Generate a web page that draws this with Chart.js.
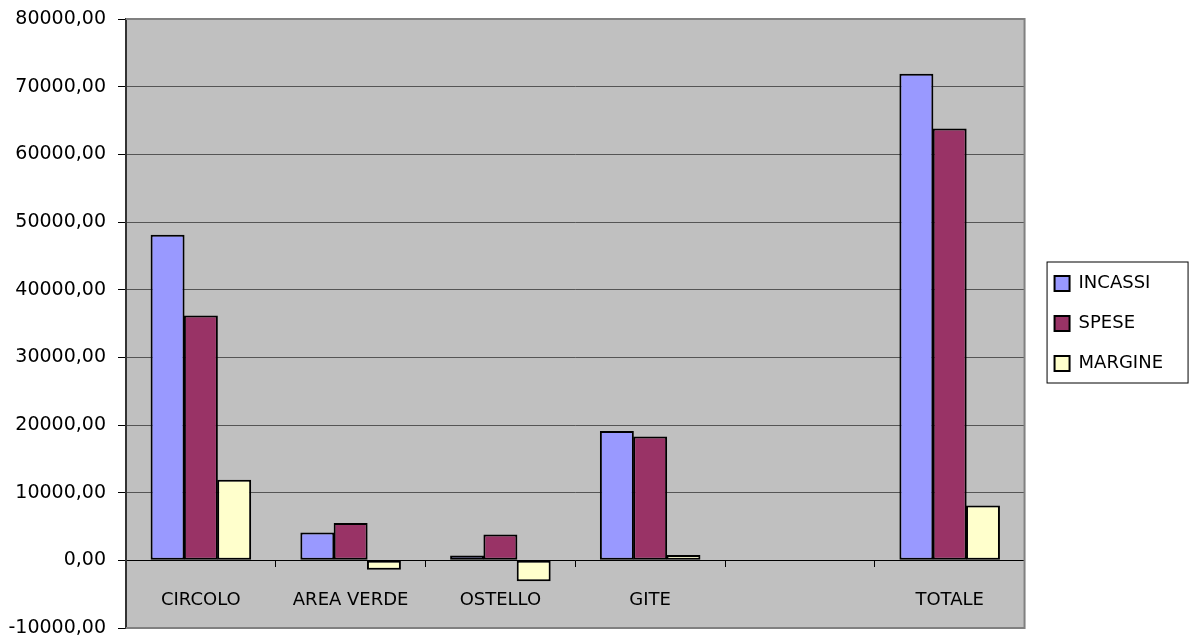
<!DOCTYPE html>
<html lang="it">
<head>
    <meta charset="UTF-8">
    <title>Incassi e spese</title>
    <script src="https://cdn.jsdelivr.net/npm/chart.js"></script>
    <style>
        body {
            margin: 0;
            padding: 0;
            background-color: #fff;
        }
        #wrap {
            width: 1192px;
            height: 643px;
        }
    </style>
</head>
<body>

<div id="wrap">
    <canvas id="grafico" width="1192" height="643"></canvas>
</div>

<script>
    // Dati
    const categorie = ['CIRCOLO', 'AREA VERDE', 'OSTELLO', 'GITE', '', 'TOTALE'];
    const incassi = [48100, 4100, 700, 19100, null, 71900];
    const spese = [36200, 5500, 3800, 18300, null, 63800];
    const margine = [11900, -1400, -3100, 800, null, 8100];

    const fontCat = { family: 'DejaVu Sans', size: 18 };

    // niente margini automatici delle etichette, decide il layout
    function azzeraPadding(scale) {
        scale.paddingTop = 0;
        scale.paddingBottom = 0;
        scale.paddingLeft = 0;
        scale.paddingRight = 0;
    }

    // sfondo grigio dell'area del grafico e cornice
    const areaGrigia = {
        id: 'areaGrigia',
        beforeDraw(chart) {
            const { ctx, chartArea: a } = chart;
            ctx.save();
            ctx.fillStyle = '#c0c0c0';
            ctx.fillRect(a.left, a.top, a.right - a.left, a.bottom - a.top);
            ctx.restore();
        },
        afterDraw(chart) {
            const { ctx, chartArea: a } = chart;
            ctx.save();
            ctx.strokeStyle = '#808080';
            ctx.lineWidth = 2;
            ctx.beginPath();
            ctx.moveTo(a.left, a.top);
            ctx.lineTo(a.right, a.top);
            ctx.lineTo(a.right, a.bottom);
            ctx.lineTo(a.left, a.bottom);
            ctx.stroke();

            // cornice della legenda
            const boxes = chart.legend.legendHitBoxes;
            if (boxes && boxes.length) {
                const first = boxes[0];
                const last = boxes[boxes.length - 1];
                const x = first.left - 8;
                const y = first.top - 13;
                ctx.strokeStyle = '#000';
                ctx.lineWidth = 1;
                ctx.strokeRect(x + 0.5, y + 0.5, 141, last.top + last.height + 10 - y);
            }
            ctx.restore();
        }
    };

    Chart.defaults.color = '#000';

    const ctx = document.getElementById('grafico').getContext('2d');
    new Chart(ctx, {
        type: 'bar',
        data: {
            labels: categorie,
            datasets: [
                {
                    label: 'INCASSI',
                    data: incassi,
                    backgroundColor: '#9999ff',
                    borderColor: '#000',
                    borderWidth: 2,
                    borderSkipped: false
                },
                {
                    label: 'SPESE',
                    data: spese,
                    backgroundColor: '#993366',
                    borderColor: '#000',
                    borderWidth: 2,
                    borderSkipped: false
                },
                {
                    label: 'MARGINE',
                    data: margine,
                    backgroundColor: '#ffffcc',
                    borderColor: '#000',
                    borderWidth: 2,
                    borderSkipped: false
                }
            ]
        },
        options: {
            responsive: false,
            animation: false,
            categoryPercentage: 0.667,
            barPercentage: 1.02,
            layout: {
                padding: { top: 19, bottom: 15, left: 0, right: 19 }
            },
            plugins: {
                legend: {
                    position: 'right',
                    labels: {
                        boxWidth: 15,
                        boxHeight: 15,
                        padding: 22,
                        font: fontCat
                    }
                },
                tooltip: { enabled: false }
            },
            scales: {
                x: {
                    position: { y: 0 },
                    afterFit: azzeraPadding,
                    grid: {
                        offset: true,
                        drawOnChartArea: false,
                        drawTicks: true,
                        tickLength: 6,
                        tickColor: '#000'
                    },
                    border: { color: '#000', width: 1 },
                    ticks: {
                        font: fontCat,
                        padding: 23,
                        maxRotation: 0,
                        autoSkip: false
                    }
                },
                y: {
                    min: -10000,
                    max: 80000,
                    afterFit(scale) {
                        scale.width = 126;
                        azzeraPadding(scale);
                    },
                    grid: {
                        color: '#555',
                        tickColor: '#000',
                        tickLength: 8
                    },
                    border: { color: '#333', width: 2 },
                    ticks: {
                        stepSize: 10000,
                        padding: 12,
                        font: { family: 'DejaVu Sans', size: 19 },
                        callback: function(value) {
                            return value.toFixed(2).replace('.', ',');
                        }
                    }
                },
                spazio: {
                    position: 'right',
                    grid: { display: false },
                    border: { display: false },
                    ticks: { display: false },
                    afterFit(scale) {
                        scale.width = 8;
                        azzeraPadding(scale);
                    }
                }
            }
        },
        plugins: [areaGrigia]
    });
</script>

</body>
</html>
